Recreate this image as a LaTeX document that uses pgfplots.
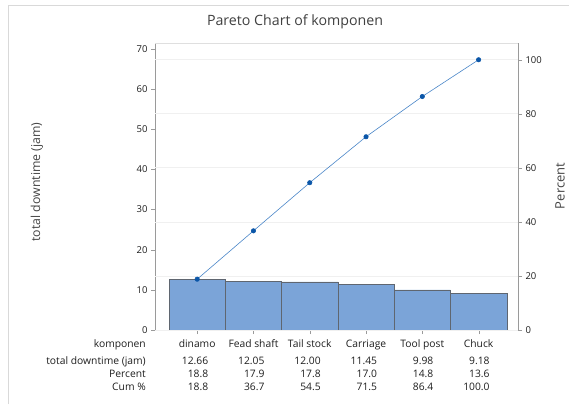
\documentclass[border=0pt]{standalone}
\usepackage{pgfplots}
\pgfplotsset{compat=1.18}
\usepackage{fontspec}
\setmainfont{Open Sans}
\definecolor{barfill}{HTML}{7BA4D8}
\definecolor{baredge}{HTML}{5F6670}
\definecolor{linec}{HTML}{4A86C8}
\definecolor{markc}{HTML}{0B56A8}
\definecolor{axc}{HTML}{9A9A9A}
\definecolor{txt}{HTML}{1E1E1E}
\definecolor{lbl}{HTML}{444444}
\newcommand{\rb}[1]{\makebox[22pt][r]{#1}}
\begin{document}
\begin{tikzpicture}[x=1pt,y=1pt]
\useasboundingbox (0,0) rectangle (569,404);
\draw[gray!30, line width=0.8pt] (8,0) -- (8,399) -- (569,399);
\node[font=\fontsize{14.2}{16}\selectfont, text=txt!85] at (295,382) {Pareto Chart of komponen};
\node[rotate=90, font=\fontsize{12.3}{15}\selectfont, text=lbl] at (37,222) {total downtime (jam)};
\node[rotate=90, font=\fontsize{13}{15}\selectfont, text=lbl] at (560,218) {Percent};
\begin{axis}[
  at={(155pt,74pt)}, anchor=south west, scale only axis,
  width=363pt, height=287pt,
  xmin=-0.749, xmax=5.70, ymin=0, ymax=71.5,
  axis x line*=bottom, axis y line*=left,
  axis line style={draw=axc},
  x axis line style={-}, y axis line style={-},
  tick align=outside, major tick length=4pt,
  tick style={draw=axc},
  xtick={0,...,5},
  xticklabels={
    {\strut dinamo\\[4pt]\rb{12.66}\\\rb{18.8}\\\rb{18.8}},
    {\strut Fead shaft\\[4pt]\rb{12.05}\\\rb{17.9}\\\rb{36.7}},
    {\strut Tail stock\\[4pt]\rb{12.00}\\\rb{17.8}\\\rb{54.5}},
    {\strut Carriage\\[4pt]\rb{11.45}\\\rb{17.0}\\\rb{71.5}},
    {\strut Tool post\\[4pt]\rb{9.98}\\\rb{14.8}\\\rb{86.4}},
    {\strut Chuck\\[4pt]\rb{9.18}\\\rb{13.6}\\\rb{100.0}}},
  xticklabel style={align=center, font=\fontsize{10.3}{13}\selectfont, text=txt, anchor=north, inner sep=0pt, yshift=-4pt},
  ytick={0,10,...,70},
  yticklabel style={font=\fontsize{9.5}{11}\selectfont, text=txt},
  /pgf/number format/assume math mode=true,
  clip=false,
]
\addplot[ybar, bar width=1, fill=barfill, draw=baredge, line width=0.5pt] coordinates {(0,12.66) (1,12.05) (2,12.00) (3,11.45) (4,9.98) (5,9.18)};
\node[anchor=north east, align=right, font=\fontsize{10.3}{13}\selectfont, text=txt, inner sep=0pt] at ([xshift=-9pt,yshift=-8pt]rel axis cs:0,0) {\strut komponen\\[4pt]total downtime (jam)\\Percent\\Cum \%};
\end{axis}
\begin{axis}[
  at={(155pt,74pt)}, anchor=south west, scale only axis,
  width=363pt, height=287pt,
  xmin=-0.749, xmax=5.70, ymin=0, ymax=106.2,
  axis x line=none, axis y line*=right,
  axis line style={draw=axc},
  y axis line style={-},
  tick align=outside, major tick length=4pt,
  tick style={draw=axc},
  ytick={0,20,...,100},
  ymajorgrids, grid style={draw=gray!12, line width=0.8pt},
  yticklabel style={font=\fontsize{9.5}{11}\selectfont, text=txt},
  /pgf/number format/assume math mode=true,
]
\draw[gray!25, line width=0.8pt] (rel axis cs:0,1) -- (rel axis cs:1,1);
\addplot[draw=linec, line width=0.6pt, mark=*, mark size=2.2pt, mark options={fill=markc, draw=markc}] coordinates {(0,18.8) (1,36.7) (2,54.5) (3,71.5) (4,86.4) (5,100.0)};
\end{axis}
\end{tikzpicture}
\end{document}
